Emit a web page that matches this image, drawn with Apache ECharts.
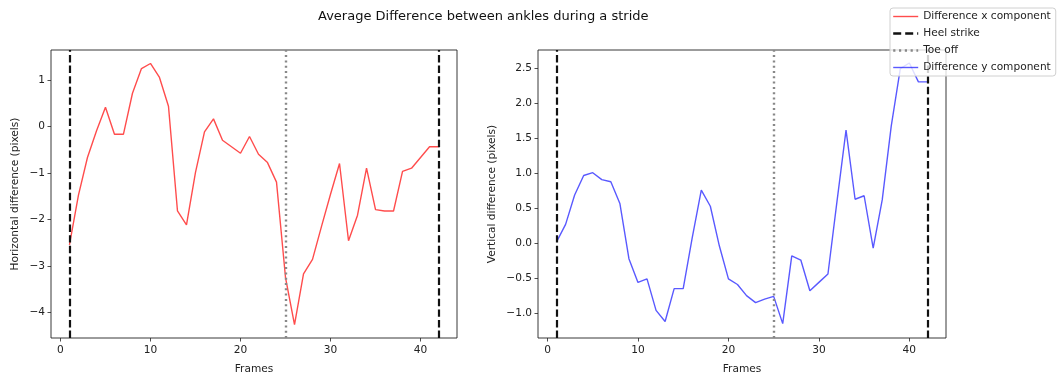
<!DOCTYPE html>
<html>
<head>
<meta charset="utf-8">
<script src="https://cdn.jsdelivr.net/npm/echarts@6/dist/echarts.min.js"></script>
<style>
html,body{margin:0;padding:0;background:#fff;}
#chart{width:1063px;height:380px;}
</style>
</head>
<body>
<div id="chart"></div>
<script>
const frames = [1,2,3,4,5,6,7,8,9,10,11,12,13,14,15,16,17,18,19,20,21,22,23,24,25,26,27,28,29,30,31,32,33,34,35,36,37,38,39,40,41,42];
const xDiff = [-2.55,-1.48,-0.67,-0.1,0.41,-0.17,-0.17,0.71,1.24,1.35,1.05,0.43,-1.82,-2.12,-0.99,-0.12,0.16,-0.3,-0.44,-0.58,-0.22,-0.6,-0.78,-1.2,-3.25,-4.26,-3.17,-2.86,-2.15,-1.46,-0.8,-2.46,-1.91,-0.9,-1.79,-1.82,-1.82,-0.97,-0.9,-0.67,-0.44,-0.44];
const yDiff = [0.02,0.27,0.69,0.97,1.01,0.91,0.88,0.57,-0.22,-0.56,-0.51,-0.96,-1.12,-0.65,-0.65,0.08,0.76,0.53,-0.04,-0.51,-0.59,-0.75,-0.85,-0.8,-0.76,-1.15,-0.18,-0.24,-0.68,-0.56,-0.44,0.6,1.62,0.63,0.68,-0.07,0.62,1.68,2.5,2.58,2.31,2.31];
const heelStrikes = [1, 42];
const toeOffs = [25];
const xTicks = [0,10,20,30,40];
const leftYTicks = [-4,-3,-2,-1,0,1];
const rightYTicks = [-1.0,-0.5,0.0,0.5,1.0,1.5,2.0,2.5];
const titleText = 'Average Difference between ankles during a stride';

const FONT = 'DejaVu Sans';
const FS = 10.6;
const minus = s => s.replace('-', '\u2212');

function xAxisCfg(gi){
  return {
    type:'value', gridIndex:gi, min:-1.05, max:44.05,
    name:'Frames', nameLocation:'middle', nameGap:26,
    nameTextStyle:{fontFamily:FONT,fontSize:FS,color:'#222'},
    axisLine:{show:false,onZero:false},
    axisTick:{show:true,inside:false,length:3.5,lineStyle:{color:'#222',width:0.8},customValues:xTicks},
    axisLabel:{show:true,margin:7,fontFamily:FONT,fontSize:FS,color:'#222',customValues:xTicks,formatter:v=>minus(String(v))},
    splitLine:{show:false}
  };
}
function yAxisCfg(gi,min,max,ticks,name,gap,dec){
  return {
    type:'value', gridIndex:gi, min:min, max:max,
    name:name, nameLocation:'middle', nameGap:gap, nameRotate:90,
    nameTextStyle:{fontFamily:FONT,fontSize:FS,color:'#222'},
    axisLine:{show:false,onZero:false},
    axisTick:{show:true,inside:false,length:3.5,lineStyle:{color:'#222',width:0.8},customValues:ticks},
    axisLabel:{show:true,margin:6,fontFamily:FONT,fontSize:FS,color:'#222',customValues:ticks,
      formatter:v=>minus(dec?Number(v).toFixed(1):String(Math.round(v)))},
    splitLine:{show:false}
  };
}
function vlineSeries(name,gi,vals,lineStyle){
  return {
    name:name, type:'line', xAxisIndex:gi, yAxisIndex:gi, data:[], symbol:'none',
    lineStyle:lineStyle, itemStyle:{color:lineStyle.color}, silent:true, z:3,
    markLine:{silent:true, symbol:['none','none'], label:{show:false},
      lineStyle:lineStyle, emphasis:{disabled:true},
      data:vals.map(v=>({xAxis:v}))}
  };
}
const heelStyle = {color:'#111',width:2.2,type:[7.4,3.2]};
const toeStyle = {color:'#888',width:2.4,type:[2,3.3]};
const redStyle = {color:'rgba(255,0,0,0.7)',width:1.4};
const blueStyle = {color:'rgba(0,0,255,0.65)',width:1.4};

const chart = echarts.init(document.getElementById('chart'),null,{renderer:'canvas'});
chart.setOption({
  animation:false,
  backgroundColor:'#fff',
  title:{text:titleText,left:318,top:10,padding:0,textStyle:{fontFamily:FONT,fontSize:13,fontWeight:'normal',color:'#111'}},
  legend:{
    orient:'vertical', left:890, top:8,
    data:[
      {name:'Difference x component',lineStyle:{color:redStyle.color,width:1.4,type:'solid'}},
      {name:'Heel strike',lineStyle:{color:heelStyle.color,width:2.4,type:[8,4]}},
      {name:'Toe off',lineStyle:{color:toeStyle.color,width:2.4,type:[2.2,3.6]}},
      {name:'Difference y component',lineStyle:{color:blueStyle.color,width:1.4,type:'solid'}}
    ],
    itemWidth:25, itemHeight:10, itemGap:6,
    padding:[3,5,3,2],
    itemStyle:{opacity:0},
    backgroundColor:'rgba(255,255,255,0.8)', borderColor:'#d0d0d0', borderWidth:1, borderRadius:3,
    textStyle:{fontFamily:FONT,fontSize:FS,color:'#222'},
    selectedMode:false, z:10
  },
  grid:[
    {left:51,top:50,width:406,height:291,show:true,borderColor:'#222',borderWidth:0.9,backgroundColor:'transparent',containLabel:false},
    {left:538,top:50,width:408,height:291,show:true,borderColor:'#222',borderWidth:0.9,backgroundColor:'transparent',containLabel:false}
  ],
  xAxis:[xAxisCfg(0),xAxisCfg(1)],
  yAxis:[
    yAxisCfg(0,-4.55,1.64,leftYTicks,'Horizontal difference (pixels)',30,false),
    yAxisCfg(1,-1.356,2.766,rightYTicks,'Vertical difference (pixels)',40,true)
  ],
  series:[
    {name:'Difference x component',type:'line',xAxisIndex:0,yAxisIndex:0,
     data:frames.map((f,i)=>[f,xDiff[i]]),symbol:'none',lineStyle:redStyle,itemStyle:{color:redStyle.color},z:2},
    vlineSeries('Heel strike',0,heelStrikes,heelStyle),
    vlineSeries('Toe off',0,toeOffs,toeStyle),
    {name:'Difference y component',type:'line',xAxisIndex:1,yAxisIndex:1,
     data:frames.map((f,i)=>[f,yDiff[i]]),symbol:'none',lineStyle:blueStyle,itemStyle:{color:blueStyle.color},z:2},
    vlineSeries('Heel strike',1,heelStrikes,heelStyle),
    vlineSeries('Toe off',1,toeOffs,toeStyle)
  ]
});
</script>
</body>
</html>
